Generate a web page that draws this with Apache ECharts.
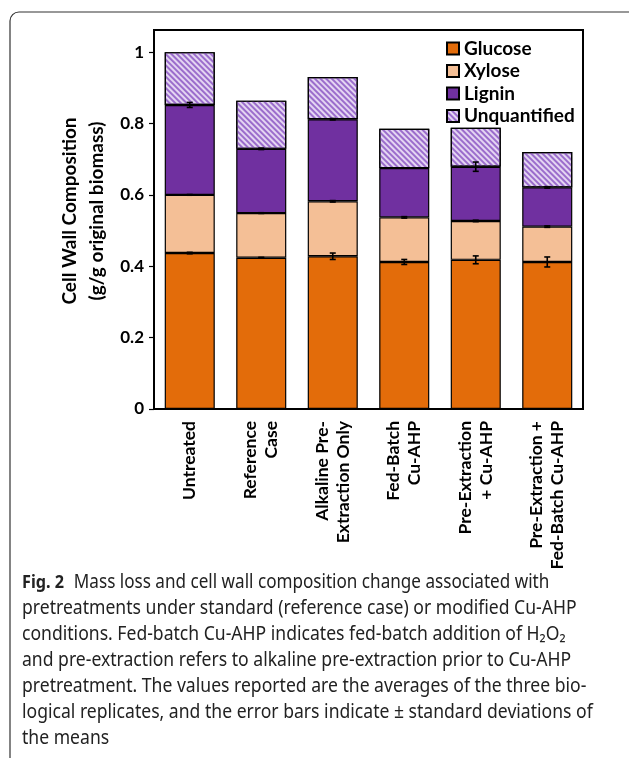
<!DOCTYPE html>
<html>
<head>
<meta charset="utf-8">
<script src="https://cdn.jsdelivr.net/npm/echarts@6/dist/echarts.min.js"></script>
<style>
  html, body { margin: 0; padding: 0; background: #fff; }
  #chart { width: 629px; height: 758px; }
</style>
</head>
<body>
<div id="chart"></div>
<script>
// Pretreatment conditions (x axis)
const categories = [
  'Untreated',
  'Reference\nCase',
  'Alkaline Pre-\nExtraction Only',
  'Fed-Batch\nCu-AHP',
  'Pre-Extraction\n+ Cu-AHP',
  'Pre-Extraction +\nFed-Batch Cu-AHP'
];

// Component masses, g per g original biomass
const glucose      = [0.437, 0.424, 0.428, 0.412, 0.418, 0.412];
const xylose       = [0.163, 0.125, 0.154, 0.125, 0.109, 0.099];
const lignin       = [0.252, 0.180, 0.230, 0.138, 0.152, 0.110];
const unquantified = [0.148, 0.135, 0.118, 0.110, 0.109, 0.099];

// Standard deviations of each measured component
const glucoseSd = [0.002, 0.001, 0.009, 0.007, 0.011, 0.014];
const xyloseSd  = [0.001, 0.001, 0.002, 0.002, 0.002, 0.002];
const ligninSd  = [0.007, 0.002, 0.002, 0.000, 0.013, 0.002];

// Y axis ticks (the frame runs a little above the last tick)
const yTicks = [0, 0.2, 0.4, 0.6, 0.8, 1];
const yTop = 1.062;

// Caption lines
const captionLines = [
  '{b|Fig. 2} Mass loss and cell wall composition change associated with',
  'pretreatments under standard (reference case) or modified Cu-AHP',
  'conditions. Fed-batch Cu-AHP indicates fed-batch addition of H₂O₂',
  'and pre-extraction refers to alkaline pre-extraction prior to Cu-AHP',
  'pretreatment. The values reported are the averages of the three bio-',
  'logical replicates, and the error bars indicate ± standard deviations of',
  'the means'
];

const COLORS = {
  glucose: '#e36c0a',
  xylose: '#f4bf96',
  lignin: '#7030a0',
  unqBase: '#e4d5f2',
  unqLine: '#9b6dcc'
};

// Error bars sit at the cumulative top of each measured component
const errData = [];
for (let i = 0; i < categories.length; i++) {
  const g = glucose[i], x = g + xylose[i], l = x + lignin[i];
  errData.push([i, g, glucoseSd[i]]);
  errData.push([i, x, xyloseSd[i]]);
  errData.push([i, l, ligninSd[i]]);
}

function renderErr(params, api) {
  const idx = api.value(0), top = api.value(1), sd = api.value(2);
  const hi = api.coord([idx, top + sd]);
  const lo = api.coord([idx, top - sd]);
  const cap = 3;
  const st = { stroke: '#000', lineWidth: 1.6 };
  return {
    type: 'group',
    children: [
      { type: 'line', shape: { x1: hi[0], y1: hi[1], x2: lo[0], y2: lo[1] }, style: st },
      { type: 'line', shape: { x1: hi[0] - cap, y1: hi[1], x2: hi[0] + cap, y2: hi[1] }, style: st },
      { type: 'line', shape: { x1: lo[0] - cap, y1: lo[1], x2: lo[0] + cap, y2: lo[1] }, style: st }
    ]
  };
}

const FONT_CHART = 'Lato';
const FONT_CAPTION = 'Noto Sans';

function barSeries(name, data, itemStyle) {
  return {
    name, type: 'bar', stack: 'total', data,
    barCategoryGap: '30%',
    itemStyle: Object.assign({ borderColor: '#000', borderWidth: 1.2 }, itemStyle),
    emphasis: { disabled: true }
  };
}

const captionGraphics = captionLines.map((t, i) => ({
  type: 'text',
  x: 22,
  y: 583 + i * 26,
  scaleX: i === 0 ? 0.9 : 0.925,
  style: {
    text: t,
    fill: '#222',
    font: '19px "' + FONT_CAPTION + '"',
    textVerticalAlign: 'middle',
    rich: {
      b: { fontWeight: 'bold', fontSize: 18, fontFamily: FONT_CAPTION, fill: '#222', padding: [0, 6, 0, 0] }
    }
  }
}));

const chart = echarts.init(document.getElementById('chart'), null, { renderer: 'canvas' });

chart.setOption({
  animation: false,
  backgroundColor: '#fff',
  grid: {
    left: 154, right: 46, top: 30, bottom: 349,
    show: true, borderColor: '#000', borderWidth: 2
  },
  legend: {
    orient: 'vertical',
    left: 446, top: 39, padding: 0,
    icon: 'rect',
    itemWidth: 12, itemHeight: 12, itemGap: 3.5,
    selectedMode: false,
    data: ['Glucose', 'Xylose', 'Lignin', 'Unquantified'],
    textStyle: { fontFamily: FONT_CHART, fontWeight: 'bold', fontSize: 19, lineHeight: 19, color: '#000' }
  },
  xAxis: {
    type: 'category',
    data: categories,
    axisLine: { lineStyle: { color: '#000', width: 2 } },
    axisTick: { show: false },
    axisLabel: {
      interval: 0, rotate: 90, margin: 12,
      fontFamily: FONT_CHART, fontWeight: 'bold', fontSize: 17.5, lineHeight: 21, color: '#000'
    }
  },
  yAxis: {
    type: 'value',
    min: yTicks[0], max: yTop, interval: 0.2,
    splitLine: { show: false },
    axisLine: { show: true, lineStyle: { color: '#000', width: 2 } },
    axisTick: { show: true, length: 5, lineStyle: { color: '#000', width: 1.2 } },
    axisLabel: {
      margin: 10, showMaxLabel: false,
      fontFamily: FONT_CHART, fontWeight: 'bold', fontSize: 17, color: '#000',
      formatter: v => yTicks.indexOf(+v.toFixed(1)) < 0 ? '' :
        ((v === 0 || v === 1) ? String(v) : v.toFixed(1))
    }
  },
  graphic: [
    {
      type: 'rect',
      shape: { x: 10, y: 12, width: 700, height: 800, r: 9 },
      style: { fill: 'none', stroke: '#333', lineWidth: 1.2 },
      silent: true
    },
    {
      type: 'text',
      x: 83, y: 211,
      rotation: Math.PI / 2,
      style: {
        text: 'Cell Wall Composition\n(g/g original biomass)',
        font: 'bold 19px "' + FONT_CHART + '"',
        lineHeight: 27,
        fill: '#000',
        textAlign: 'center',
        textVerticalAlign: 'middle'
      }
    }
  ].concat(captionGraphics),
  series: [
    barSeries('Glucose', glucose, { color: COLORS.glucose }),
    barSeries('Xylose', xylose, { color: COLORS.xylose }),
    barSeries('Lignin', lignin, { color: COLORS.lignin }),
    barSeries('Unquantified', unquantified, {
      color: COLORS.unqBase,
      decal: {
        symbol: 'rect', symbolSize: 1,
        dashArrayX: [1, 0], dashArrayY: [1.2, 1.3],
        rotation: Math.PI / 4,
        color: COLORS.unqLine
      }
    }),
    {
      name: 'sd', type: 'custom',
      data: errData,
      renderItem: renderErr,
      z: 10, silent: true
    }
  ]
});
</script>
</body>
</html>
